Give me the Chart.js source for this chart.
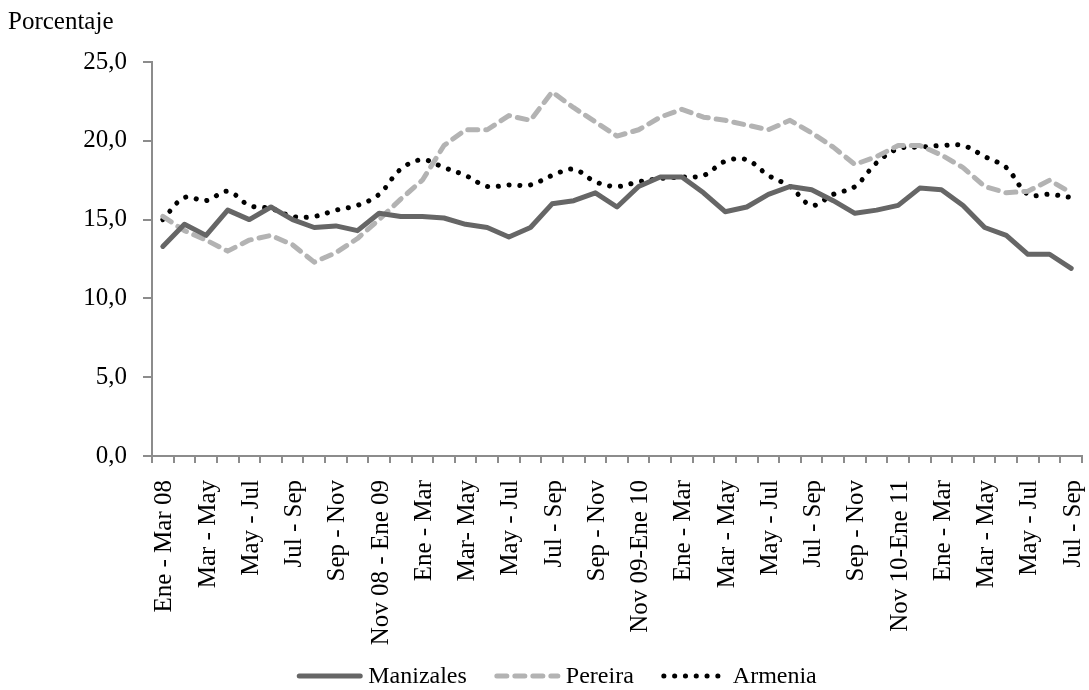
<!DOCTYPE html>
<html>
<head>
<meta charset="utf-8">
<script src="https://cdn.jsdelivr.net/npm/chart.js@4"></script>
<style>
  html, body { margin: 0; padding: 0; background: #fff; }
  #wrap { width: 1089px; height: 690px; }
</style>
</head>
<body>
<div id="wrap"><canvas id="chart" width="1089" height="690"></canvas></div>
<script>
// Trimestres móviles, ene-mar 2008 a jul-sep 2011 (se rotula uno de cada dos)
const periods = [
  "Ene - Mar 08", "Feb - Abr", "Mar - May", "Abr - Jun", "May - Jul", "Jun - Ago",
  "Jul - Sep", "Ago - Oct", "Sep - Nov", "Oct - Dic", "Nov 08 - Ene 09", "Dic - Feb",
  "Ene - Mar", "Feb - Abr", "Mar- May", "Abr - Jun", "May - Jul", "Jun - Ago",
  "Jul - Sep", "Ago - Oct", "Sep - Nov", "Oct - Dic", "Nov 09-Ene 10", "Dic - Feb",
  "Ene - Mar", "Feb - Abr", "Mar - May", "Abr - Jun", "May - Jul", "Jun - Ago",
  "Jul - Sep", "Ago - Oct", "Sep - Nov", "Oct - Dic", "Nov 10-Ene 11", "Dic - Feb",
  "Ene - Mar", "Feb - Abr", "Mar - May", "Abr - Jun", "May - Jul", "Jun - Ago",
  "Jul - Sep",
];

const manizales = [
  13.3, 14.7, 14.0, 15.6, 15.0, 15.8, 15.0, 14.5, 14.6, 14.3, 15.4, 15.2,
  15.2, 15.1, 14.7, 14.5, 13.9, 14.5, 16.0, 16.2, 16.7, 15.8, 17.1, 17.7,
  17.7, 16.7, 15.5, 15.8, 16.6, 17.1, 16.9, 16.2, 15.4, 15.6, 15.9, 17.0,
  16.9, 15.9, 14.5, 14.0, 12.8, 12.8, 11.9,
];
const pereira = [
  15.2, 14.3, 13.7, 13.0, 13.7, 14.0, 13.4, 12.3, 12.9, 13.8, 15.0, 16.3,
  17.5, 19.7, 20.7, 20.7, 21.6, 21.3, 23.1, 22.1, 21.2, 20.3, 20.7, 21.5,
  22.0, 21.5, 21.3, 21.0, 20.7, 21.3, 20.5, 19.6, 18.5, 19.0, 19.7, 19.7,
  19.1, 18.3, 17.1, 16.7, 16.8, 17.5, 16.7,
];
const armenia = [
  15.0, 16.4, 16.2, 16.8, 15.9, 15.7, 15.2, 15.2, 15.6, 15.9, 16.6, 18.2,
  18.8, 18.3, 17.8, 17.1, 17.2, 17.2, 17.8, 18.2, 17.4, 17.1, 17.4, 17.6,
  17.7, 17.8, 18.7, 18.8, 17.8, 17.1, 15.9, 16.6, 17.1, 18.6, 19.5, 19.6,
  19.7, 19.7, 19.0, 18.3, 16.6, 16.6, 16.4,
];

const FONT = "'Liberation Serif', 'Times New Roman', serif";
const AXIS_GREY = "#8c8c8c";

// título del eje y leyenda se pintan a mano, como en el original de Excel
const extras = {
  id: "extras",
  afterDraw(chart) {
    const ctx = chart.ctx;
    ctx.save();
    ctx.fillStyle = "#000";
    ctx.textBaseline = "alphabetic";
    ctx.textAlign = "left";
    ctx.font = `25px ${FONT}`;
    ctx.fillText("Porcentaje", 8, 29);

    ctx.font = `24px ${FONT}`;
    const sample = 65, gap = 6, itemGap = 28, y = 676;
    const items = chart.data.datasets.map((ds) => ({ ds, w: ctx.measureText(ds.label).width }));
    const total = items.reduce((s, it) => s + sample + gap + it.w, 0) + itemGap * (items.length - 1);
    let x = 557 - total / 2;
    ctx.textBaseline = "middle";
    items.forEach(({ ds, w }) => {
      ctx.beginPath();
      ctx.strokeStyle = ds.borderColor;
      ctx.lineWidth = ds.borderWidth;
      ctx.lineCap = ds.borderCapStyle || "butt";
      ctx.setLineDash(ds.borderDash || []);
      ctx.moveTo(x + 2, y);
      ctx.lineTo(x + sample - 2, y);
      ctx.stroke();
      ctx.setLineDash([]);
      ctx.fillText(ds.label, x + sample + gap, y + 1);
      x += sample + gap + w + itemGap;
    });
    ctx.restore();
  },
};

new Chart(document.getElementById("chart"), {
  type: "line",
  data: {
    labels: periods,
    datasets: [
      { label: "Manizales", data: manizales, borderColor: "#666666", borderWidth: 5,
        borderCapStyle: "round", borderJoinStyle: "round", tension: 0, pointRadius: 0 },
      { label: "Pereira", data: pereira, borderColor: "#b3b3b3", borderWidth: 5,
        borderDash: [10, 8], borderCapStyle: "round", borderJoinStyle: "round", tension: 0, pointRadius: 0 },
      { label: "Armenia", data: armenia, borderColor: "#000000", borderWidth: 5,
        borderDash: [0.1, 10.7], borderCapStyle: "round", tension: 0.35, pointRadius: 0 },
    ],
  },
  options: {
    responsive: false,
    animation: false,
    layout: { padding: { top: 62, right: 7, left: 0, bottom: 0 } },
    plugins: { legend: { display: false }, tooltip: { enabled: false } },
    scales: {
      x: {
        offset: true,
        grid: { offset: true, drawOnChartArea: false, drawTicks: true, tickLength: 7, color: AXIS_GREY, lineWidth: 2 },
        border: { color: AXIS_GREY, width: 2 },
        ticks: {
          autoSkip: false, minRotation: 90, maxRotation: 90, padding: 17, labelOffset: 2,
          color: "#000", font: { family: FONT, size: 25 },
          callback: (v, i) => (i % 2 === 0 ? periods[i] : ""),
        },
        afterFit: (s) => { s.height = 234; s.paddingLeft = 0; s.paddingRight = 0; },
      },
      y: {
        min: 0, max: 25,
        grid: { drawOnChartArea: false, drawTicks: true, tickLength: 9, color: AXIS_GREY, lineWidth: 2 },
        border: { color: AXIS_GREY, width: 2 },
        ticks: {
          stepSize: 5, padding: 16, color: "#000", font: { family: FONT, size: 25 },
          callback: (v) => v.toFixed(1).replace(".", ","),
        },
        afterFit: (s) => { s.width = 152; },
      },
    },
  },
  plugins: [extras],
});
</script>
</body>
</html>
